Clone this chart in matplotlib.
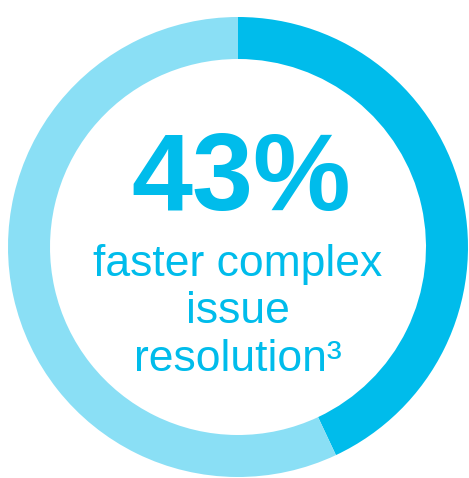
import matplotlib.pyplot as plt

# Chart data
shares = [43, 57]
colors = ["#00BCEB", "#8ADFF5"]
headline = "43%"
caption = ["faster complex", "issue", "resolution\u00b3"]

W, H = 469, 478
fig = plt.figure(figsize=(W / 100, H / 100), dpi=100)
ax = fig.add_axes([0, 0, 1, 1])
ax.set_xlim(0, W)
ax.set_ylim(0, H)
ax.axis("off")

# donut: dark part starts at 12 o'clock and runs clockwise
ax.pie(shares, colors=colors, startangle=90, counterclock=False,
       center=(238, H - 247), radius=230,
       wedgeprops=dict(width=42, linewidth=0))
ax.set_xlim(0, W)
ax.set_ylim(0, H)

ax.text(241, H - 210, headline, ha="center", va="baseline",
        fontsize=79, fontweight="bold", color="#00BCEB",
        family="Liberation Sans")

ys = [276, 323, 371]
for line, y in zip(caption, ys):
    ax.text(238, H - y, line, ha="center", va="baseline",
            fontsize=32, color="#00BCEB", family="Liberation Sans")

fig.savefig("out.png", dpi=100)
